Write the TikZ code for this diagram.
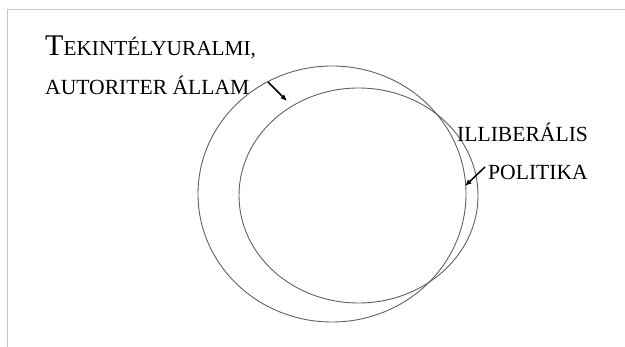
\documentclass[tikz,border=0pt]{standalone}
\usepackage{fontspec}
\setmainfont{Liberation Serif}
\usetikzlibrary{arrows.meta}

\begin{document}
\begin{tikzpicture}[x=1pt,y=-1pt]
      \tikzset{
            setring/.style={draw=gray!75!black, line width=0.9pt},
            setlabel/.style={anchor=base west, inner sep=0pt, text=black},
            setptr/.style={-{Latex[length=6.5pt,width=5.5pt]}, line width=1.5pt, black},
            pageframe/.style={gray!45, line width=1pt}
      }
      \newcommand{\capsA}{\fontsize{30}{30}\selectfont}
      \newcommand{\capsB}{\fontsize{21.3}{21.3}\selectfont}
      \newcommand{\capsC}{\fontsize{21.6}{21.6}\selectfont}

      % Canvas
      \useasboundingbox (0,0) rectangle (625,347);
      \draw[pageframe] (7,347) -- (7,10) -- (625,10);

      % Sets
      \draw[setring] (332,194) ellipse [x radius=134, y radius=128];
      \draw[setring] (358.5,195.5) ellipse [x radius=119.5, y radius=107.5];

      % Labels
      \node[setlabel] (aut1) at (45,56) {{\capsA T}{\capsB EKINTÉLYURALMI,}};
      \node[setlabel] (aut2) at (45,95) {\capsC AUTORITER ÁLLAM};
      \node[setlabel] (ill1) at (457,142) {\capsC ILLIBERÁLIS};
      \node[setlabel] (ill2) at (488,180) {\capsC POLITIKA};

      % Pointers
      \coordinate (autfrom) at (268,82);
      \coordinate (autto) at (287,101);
      \coordinate (illfrom) at (485,167);
      \coordinate (illto) at (465,186);
      \draw[setptr] (autfrom) -- (autto);
      \draw[setptr] (illfrom) -- (illto);

\end{tikzpicture}
\end{document}
